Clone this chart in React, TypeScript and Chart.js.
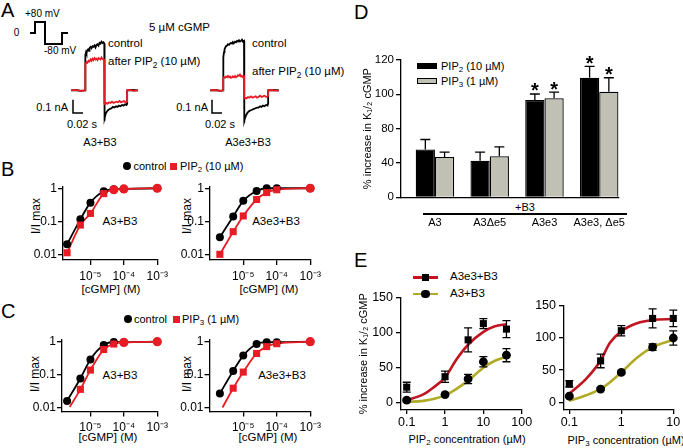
import React, { useEffect, useRef } from "react";
import { Chart, registerables } from "chart.js";

Chart.register(...registerables);

const FONT = "'Liberation Sans', Arial, Helvetica, sans-serif";
Chart.defaults.font.family = FONT;
Chart.defaults.color = "#000";

const RED = "rgb(232, 28, 36)";
const DARK_RED = "rgb(192, 22, 34)";
const OLIVE = "rgb(176, 170, 38)";
const GRAY = "rgb(192, 192, 180)";

// ================= Panel A data =================
const protocolTimeMs = [0, 10, 10, 30, 30, 64, 64, 76];
const protocolMv = [0, 0, 80, 80, -80, -80, 0, 0];

const a3CtrlT = [82, 92, 102, 110, 110.4, 111, 112, 113, 114, 116, 118, 119, 121, 123, 125, 127, 129, 131, 133, 135, 137, 139, 141, 143, 145, 147, 148.6, 148.8, 149.5, 150.5, 152, 154, 156, 158, 160, 163, 166, 169, 172, 175, 178, 181, 184, 187, 190, 193, 194, 194.3, 205, 216];
const a3CtrlI = [0, 0.003, -0.003, 0, 0.22, 0.27, 0.29, 0.28, 0.3, 0.31, 0.3, 0.32, 0.33, 0.32, 0.335, 0.33, 0.34, 0.325, 0.345, 0.35, 0.34, 0.36, 0.355, 0.37, 0.36, 0.365, 0.355, -0.23, -0.21, -0.19, -0.17, -0.16, -0.15, -0.145, -0.14, -0.135, -0.125, -0.13, -0.12, -0.125, -0.115, -0.12, -0.11, -0.115, -0.105, -0.11, -0.1, 0, 0.003, 0];
const a3Pip2T = [82, 90, 100, 110, 110.4, 111, 113, 115, 117, 119, 121, 123, 125, 127, 129, 131, 133, 135, 137, 139, 141, 143, 145, 147, 148.6, 148.8, 150, 152, 155, 158, 161, 164, 167, 170, 173, 176, 179, 182, 185, 188, 191, 194, 194.3, 200, 208, 216];
const a3Pip2I = [0, 0.004, -0.003, 0, 0.19, 0.2, 0.215, 0.21, 0.225, 0.22, 0.235, 0.225, 0.24, 0.23, 0.245, 0.235, 0.24, 0.23, 0.245, 0.24, 0.235, 0.25, 0.24, 0.235, 0.23, -0.1, -0.105, -0.095, -0.1, -0.09, -0.095, -0.085, -0.095, -0.09, -0.085, -0.09, -0.08, -0.09, -0.085, -0.08, -0.09, -0.085, 0, 0.004, -0.003, 0];

const a3e3CtrlT = [80, 92, 100, 106, 106.3, 107, 108, 109, 110, 112, 114, 116, 118, 120, 122, 124, 126, 128, 130, 132, 134, 136, 138, 140, 142, 144, 146, 148, 148.2, 149, 150, 152, 154, 156, 159, 162, 165, 168, 171, 174, 177, 180, 183, 186, 189, 192, 195, 196, 196.3, 207, 218];
const a3e3CtrlI = [0, 0.003, -0.003, 0, 0.15, 0.25, 0.29, 0.31, 0.32, 0.335, 0.34, 0.35, 0.345, 0.355, 0.36, 0.355, 0.365, 0.36, 0.37, 0.365, 0.375, 0.37, 0.38, 0.37, 0.375, 0.385, 0.37, 0.375, -0.245, -0.23, -0.21, -0.19, -0.175, -0.165, -0.155, -0.15, -0.145, -0.14, -0.135, -0.13, -0.13, -0.12, -0.125, -0.115, -0.12, -0.11, -0.115, -0.1, 0, 0.003, 0];
const a3e3Pip2T = [80, 90, 100, 106, 106.3, 108, 110, 112, 114, 116, 118, 120, 122, 124, 126, 128, 130, 132, 134, 136, 138, 140, 142, 144, 146, 148, 148.2, 150, 153, 156, 159, 162, 165, 168, 171, 174, 177, 180, 183, 186, 189, 192, 195, 196, 196.3, 204, 212, 218];
const a3e3Pip2I = [0, 0.003, -0.003, 0, 0.09, 0.1, 0.095, 0.105, 0.1, 0.11, 0.1, 0.105, 0.095, 0.1, 0.105, 0.1, 0.11, 0.1, 0.105, 0.115, 0.11, 0.12, 0.105, 0.11, 0.1, 0.105, -0.06, -0.055, -0.06, -0.05, -0.055, -0.045, -0.055, -0.05, -0.045, -0.055, -0.05, -0.04, -0.05, -0.045, -0.04, -0.05, -0.045, -0.04, 0, 0.003, -0.002, 0];

const scaleBarNa = 0.1;
const scaleBarMs = 20;
const a3ScaleBarCorner = [86, -0.171];
const a3e3ScaleBarCorner = [84, -0.171];

// ================= Panels B / C data =================
const cgmpM = [2e-6, 5e-6, 1e-5, 2.5e-5, 5e-5, 1e-4, 1e-3];
const bA3Ctrl = [0.021, 0.117, 0.37, 0.81, 0.93, 0.95, 1.0];
const bA3Pip2 = [0.0117, 0.079, 0.176, 0.69, 0.9, 0.95, 1.0];
const bA3e3Ctrl = [0.034, 0.143, 0.42, 0.83, 1.0, 1.0, 1.0];
const bA3e3Pip2 = [0.0105, 0.05, 0.148, 0.46, 0.74, 0.9, 1.0];
const cA3Ctrl = [0.016, 0.077, 0.29, 0.79, 0.98, 0.97, 1.0];
const cA3Pip3 = [null, 0.036, 0.138, 0.58, 0.85, 0.95, 1.0];
const cA3e3Ctrl = [0.027, 0.13, 0.38, 0.85, 0.97, 0.97, 1.0];
const cA3e3Pip3 = [null, 0.039, 0.12, 0.44, 0.71, 0.87, 1.0];
const cPip3CurveStartM = 2.4e-6;
const cA3Pip3CurveStart = 0.0105;
const cA3e3Pip3CurveStart = 0.0101;

const bA3DrugShapes = ["rect", "rect", "rect", "rect", "circle", "circle", "circle"];
const bA3e3DrugShapes = ["rect", "rect", "rect", "rect", "rect", "rect", "circle"];
const cA3DrugShapes = ["rect", "rect", "rect", "rect", "rect", "circle", "circle"];
const cA3e3DrugShapes = ["rect", "rect", "rect", "rect", "rect", "rect", "circle"];

const cgmpTicks = [1e-5, 1e-4, 1e-3];
const cgmpTickLabels = ["10\u207B\u2075", "10\u207B\u2074", "10\u207B\u00B3"];
const ratioTicks = [0.01, 0.1, 1];
const ratioTickLabels = ["0.01", "0.1", "1"];

// ================= Panel D data =================
const dCategories = ["A3", "A3\u0394e5", "A3e3", "A3e3, \u0394e5"];
const dPip2 = [55.6, 42.7, 113.3, 139.2];
const dPip2Err = [11.7, 9.8, 7.0, 13.3];
const dPip3 = [47.0, 47.8, 115.3, 123.0];
const dPip3Err = [5.5, 11.0, 7.1, 16.2];
const dPip2Star = [false, false, true, true];
const dPip3Star = [false, false, true, true];
const dTickValues = [0, 40, 80, 120, 160];
const dTickLabels = ["0", "40", "80", "100", "120"];

// ================= Panel E data =================
const ePip2Conc = [0.1, 1, 4, 10, 40];
const eA3e3Pip2 = [22.3, 37.2, 89.7, 112.8, 105];
const eA3e3Pip2Err = [7, 8, 17, 7, 12];
const eA3Pip2 = [3.8, 11.7, 34, 58.5, 67.8];
const eA3Pip2Err = [2, 2, 6.5, 7.4, 9.3];
const ePip2CurveX = [0.1, 0.27, 0.5, 1, 2, 4, 10, 20, 40];
const eA3e3Pip2Curve = [3.8, 12, 22, 36, 62, 82.7, 101, 109, 112];
const eA3Pip2Curve = [1.4, 2.8, 5.5, 10.7, 20, 31.6, 50, 60, 65.5];

const ePip3Conc = [0.1, 0.4, 1, 4, 10];
const eA3e3Pip3 = [28.9, 64.3, 111, 130, 130];
const eA3e3Pip3Err = [5, 10.6, 8, 14.7, 12.7];
const eA3Pip3 = [9.6, 20.7, 46.5, 85.6, 99.7];
const eA3Pip3Err = [2, 2, 2, 5, 11];
const ePip3CurveX = [0.1, 0.21, 0.4, 0.6, 1, 2, 4, 10];
const eA3e3Pip3Curve = [13.7, 36.5, 65, 92, 110, 122.5, 127.6, 129];
const eA3Pip3Curve = [2.4, 11, 21, 31, 46.5, 69, 85.6, 97];

const pip2Ticks = [0.1, 1, 10, 100];
const pip2TickLabels = ["0.1", "1", "10", "100"];
const pip3Ticks = [0.1, 1, 10];
const pip3TickLabels = ["0.1", "1", "10"];
const pctTicks = [0, 50, 100, 150];
const pctTickLabels = ["0", "50", "100", "150"];

const K_TITLE = "% increase in K\u2081/\u2082 cGMP";

// ================= helpers =================
const pts = (xs: number[], ys: any[]) =>
  xs.map((x, i) => ({ x, y: ys[i] })).filter((p) => p.y !== null && p.y !== undefined);

function layoutOf(f: any) {
  const cl = Math.floor(f.area.l - f.yw - f.pad.l);
  const ct = Math.floor(f.area.t - f.pad.t);
  const cr = Math.ceil(f.area.r + f.pad.r);
  const cb = Math.ceil(f.area.b + f.xh + f.pad.b);
  return {
    left: cl,
    top: ct,
    width: cr - cl,
    height: cb - ct,
    padding: { left: f.pad.l, top: f.area.t - ct, right: cr - f.area.r, bottom: f.pad.b },
    yw: f.area.l - cl - f.pad.l,
    xh: cb - f.pad.b - f.area.b,
  };
}

const baseOptions = (L: any) => ({
  responsive: false,
  animation: false,
  events: [],
  layout: { padding: L.padding },
  plugins: { legend: { display: false }, tooltip: { enabled: false } },
});

function axis(type: string, min: number, max: number, vals: number[], labels: string[], side: string, L: any, o: any = {}) {
  const tl = o.tickLen === undefined ? 5 : o.tickLen;
  return {
    type,
    min,
    max,
    bounds: "data",
    position: side === "x" ? "bottom" : "left",
    afterBuildTicks: (s: any) => {
      s.ticks = vals.map((v) => ({ value: v }));
    },
    afterFit: (s: any) => {
      if (side === "x") s.height = L.xh;
      else s.width = L.yw;
    },
    title: o.title
      ? { display: true, text: o.title, color: "#000", font: { family: FONT, size: 11 }, padding: { top: 0, bottom: 0 } }
      : { display: false },
    grid: { display: tl > 0, drawOnChartArea: false, drawTicks: true, tickLength: tl, color: "#000", lineWidth: 1.3 },
    border: { display: true, color: "#000", width: 1.3 },
    ticks: {
      callback: (_v: any, i: number) => labels[i],
      color: "#000",
      font: { family: FONT, size: o.fontSize || 12 },
      padding: o.pad === undefined ? 2 : o.pad,
      autoSkip: false,
      maxRotation: 0,
      minRotation: 0,
    },
  };
}

const hiddenAxis = (min: number, max: number) => ({ type: "linear", display: false, min, max });

const errorBarsPlugin = {
  id: "errorBars",
  afterDatasetsDraw(chart: any) {
    const ctx = chart.ctx;
    chart.data.datasets.forEach((ds: any, i: number) => {
      if (!ds.errors) return;
      const meta = chart.getDatasetMeta(i);
      const ys = chart.scales[meta.yAxisID];
      ctx.save();
      ctx.strokeStyle = "#000";
      ctx.lineWidth = 1.3;
      meta.data.forEach((el: any, j: number) => {
        const e = ds.errors[j];
        const p = ds.data[j];
        if (e == null || p == null) return;
        const v = p.y;
        const x = el.x;
        const yTop = ys.getPixelForValue(v + e);
        const yBot = ys.getPixelForValue(ds.errorUpOnly ? v : v - e);
        const c = ds.errorCap || 4;
        ctx.beginPath();
        ctx.moveTo(x, yTop);
        ctx.lineTo(x, yBot);
        ctx.moveTo(x - c, yTop);
        ctx.lineTo(x + c, yTop);
        if (!ds.errorUpOnly) {
          ctx.moveTo(x - c, yBot);
          ctx.lineTo(x + c, yBot);
        }
        ctx.stroke();
      });
      ctx.restore();
    });
  },
};

const starsPlugin = {
  id: "stars",
  afterDatasetsDraw(chart: any) {
    const ctx = chart.ctx;
    chart.data.datasets.forEach((ds: any, i: number) => {
      if (!ds.stars) return;
      const meta = chart.getDatasetMeta(i);
      const ys = chart.scales[meta.yAxisID];
      ctx.save();
      ctx.fillStyle = "#000";
      ctx.font = `bold 20px ${FONT}`;
      ctx.textAlign = "center";
      ctx.textBaseline = "alphabetic";
      meta.data.forEach((el: any, j: number) => {
        if (!ds.stars[j]) return;
        const v = ds.data[j].y + (ds.errors ? ds.errors[j] : 0);
        ctx.fillText("*", el.x, ys.getPixelForValue(v) + 3.5);
      });
      ctx.restore();
    });
  },
};

function PlotCanvas({ frame, make }: any) {
  const ref = useRef<HTMLCanvasElement>(null);
  const L = layoutOf(frame);
  useEffect(() => {
    const chart = new Chart(ref.current as HTMLCanvasElement, make(L));
    return () => chart.destroy();
  }, []);
  return (
    <canvas
      ref={ref}
      width={L.width}
      height={L.height}
      style={{ position: "absolute", left: L.left, top: L.top, width: L.width, height: L.height, zIndex: 3 }}
    />
  );
}

// ================= chart configs =================
const traceFrameA3 = { area: { l: 30, t: 35, r: 145, b: 130 }, yw: 0, xh: 0, pad: { t: 0, r: 0, b: 0, l: 0 } };
const traceFrameA3e3 = { area: { l: 170, t: 35, r: 285, b: 130 }, yw: 0, xh: 0, pad: { t: 0, r: 0, b: 0, l: 0 } };
const protocolFrame = { area: { l: 26, t: 18, r: 72, b: 48 }, yw: 0, xh: 0, pad: { t: 0, r: 0, b: 0, l: 0 } };

const lineDs = (data: any[], color: string, width: number, extra: any = {}) => ({
  data,
  showLine: true,
  pointRadius: 0,
  borderColor: color,
  borderWidth: width,
  backgroundColor: color,
  tension: 0,
  clip: false,
  ...extra,
});

function traceConfig(ctrlT: number[], ctrlI: number[], drugT: number[], drugI: number[], corner: number[]) {
  return (L: any) => ({
    type: "scatter",
    data: {
      datasets: [
        lineDs(pts(drugT, drugI), RED, 1.8),
        lineDs(pts(ctrlT, ctrlI), "#000", 1.8),
        lineDs(
          [
            { x: corner[0], y: corner[1] + scaleBarNa },
            { x: corner[0], y: corner[1] },
            { x: corner[0] + scaleBarMs, y: corner[1] },
          ],
          "#000",
          1.5
        ),
      ],
    },
    options: { ...baseOptions(L), scales: { x: hiddenAxis(0, 230), y: hiddenAxis(-0.3, 0.42) } },
  });
}

const protocolConfig = (L: any) => ({
  type: "scatter",
  data: { datasets: [lineDs(pts(protocolTimeMs, protocolMv), "#000", 2)] },
  options: { ...baseOptions(L), scales: { x: hiddenAxis(-8, 84), y: hiddenAxis(-109, 109) } },
});

function doseConfig(xr: number[], yr: number[], ctrl: any[], drug: any[], shapes: string[], drugCurve: any[] | null) {
  return (L: any) => {
    const drugPts = pts(cgmpM, drug);
    const drugShapes = cgmpM.map((_, i) => shapes[i]).filter((_, i) => drug[i] !== null);
    return {
      type: "scatter",
      data: {
        datasets: [
          {
            data: drugPts,
            pointStyle: drugShapes,
            pointRadius: drugShapes.map((s) => (s === "rect" ? 5 : 4.6)),
            backgroundColor: RED,
            borderWidth: 0,
            clip: false,
          },
          { data: pts(cgmpM, ctrl), pointStyle: "circle", pointRadius: 4, backgroundColor: "#000", borderWidth: 0, clip: false },
          lineDs(drugCurve || drugPts, RED, 1.8, { cubicInterpolationMode: "monotone" }),
          lineDs(pts(cgmpM, ctrl), "#000", 1.8, { cubicInterpolationMode: "monotone" }),
        ],
      },
      options: {
        ...baseOptions(L),
        scales: {
          x: axis("logarithmic", xr[0], xr[1], cgmpTicks, cgmpTickLabels, "x", L, { pad: 4 }),
          y: axis("logarithmic", yr[0], yr[1], ratioTicks, ratioTickLabels, "y", L, { pad: 1 }),
        },
      },
    };
  };
}

const dFrame = { area: { l: 401, t: 59.3, r: 633, b: 197.3 }, yw: 40, xh: 40, pad: { t: 8, r: 12, b: 0, l: 0 } };
const dConfig = (L: any) => ({
  type: "bar",
  data: {
    datasets: [
      {
        data: dPip2.map((v, i) => ({ x: i, y: v })),
        backgroundColor: "#000",
        borderColor: "#000",
        borderWidth: 1.3,
        errors: dPip2Err,
        errorUpOnly: true,
        errorCap: 5,
        stars: dPip2Star,
      },
      {
        data: dPip3.map((v, i) => ({ x: i, y: v })),
        backgroundColor: GRAY,
        borderColor: "#000",
        borderWidth: 1.3,
        errors: dPip3Err,
        errorUpOnly: true,
        errorCap: 5,
        stars: dPip3Star,
      },
    ],
  },
  options: {
    ...baseOptions(L),
    datasets: { bar: { barPercentage: 1, categoryPercentage: 0.703, borderSkipped: "start" } },
    scales: {
      x: { ...axis("linear", -0.62, 3.357, [0, 1, 2, 3], dCategories, "x", L, { tickLen: 0, pad: 19, fontSize: 11 }), offset: false },
      y: axis("linear", 0, 160, dTickValues, dTickLabels, "y", L, { fontSize: 11.5, pad: 2, title: K_TITLE }),
    },
  },
  plugins: [errorBarsPlugin, starsPlugin],
});

function eConfig(xr: number[], yr: number[], ticks: number[], tickLabels: string[], conc: number[], sq: number[], sqErr: number[], ci: number[], ciErr: number[], cx: number[], sqCurve: number[], ciCurve: number[], yTitle: string | null) {
  return (L: any) => ({
    type: "scatter",
    data: {
      datasets: [
        { data: pts(conc, sq), pointStyle: "rect", pointRadius: 5, backgroundColor: "#000", borderWidth: 0, clip: false, errors: sqErr, errorCap: 4 },
        { data: pts(conc, ci), pointStyle: "circle", pointRadius: 4.4, backgroundColor: "#000", borderWidth: 0, clip: false, errors: ciErr, errorCap: 4 },
        lineDs(pts(cx, sqCurve), DARK_RED, 2.6, { cubicInterpolationMode: "monotone" }),
        lineDs(pts(cx, ciCurve), OLIVE, 2.6, { cubicInterpolationMode: "monotone" }),
      ],
    },
    options: {
      ...baseOptions(L),
      scales: {
        x: axis("logarithmic", xr[0], xr[1], ticks, tickLabels, "x", L, { tickLen: 4, pad: 1, fontSize: 12.5 }),
        y: axis("linear", yr[0], yr[1], pctTicks, pctTickLabels, "y", L, { pad: 3, fontSize: 12.5, title: yTitle }),
      },
    },
    plugins: [errorBarsPlugin],
  });
}

const bcPad = { t: 8, r: 14, b: 0, l: 0 };
const bLeftFrame = { area: { l: 63, t: 186, r: 158, b: 260 }, yw: 30, xh: 26, pad: bcPad };
const bRightFrame = { area: { l: 210, t: 186, r: 311, b: 260 }, yw: 30, xh: 26, pad: bcPad };
const cLeftFrame = { area: { l: 62, t: 339.5, r: 158, b: 411.5 }, yw: 30, xh: 26, pad: bcPad };
const cRightFrame = { area: { l: 209.5, t: 339.5, r: 311, b: 411.5 }, yw: 30, xh: 26, pad: bcPad };
const eLeftFrame = { area: { l: 401, t: 295, r: 521.7, b: 410 }, yw: 44, xh: 22, pad: { t: 8, r: 14, b: 0, l: 0 } };
const eRightFrame = { area: { l: 564, t: 303.3, r: 673.3, b: 410 }, yw: 30, xh: 22, pad: { t: 8, r: 9, b: 0, l: 0 } };

// ================= HTML text =================
function Txt({ x, y, s = 12, a = "l", rot = false, children }: any) {
  const tx = a === "l" ? "0%" : a === "c" ? "-50%" : "-100%";
  return (
    <div
      style={{
        position: "absolute",
        left: x,
        top: y,
        transform: rot ? "translate(-50%,-50%) rotate(-90deg)" : `translate(${tx},-50%)`,
        fontSize: s,
        lineHeight: 1,
        whiteSpace: "nowrap",
        fontFamily: FONT,
        color: "#000",
      }}
    >
      {children}
    </div>
  );
}
const Sub = ({ children }: any) => (
  <sub style={{ fontSize: "0.72em", verticalAlign: "-0.3em", lineHeight: 0 }}>{children}</sub>
);
function Dot({ x, y, r, color, square = false }: any) {
  return (
    <div
      style={{
        position: "absolute",
        left: x - r,
        top: y - r,
        width: 2 * r,
        height: 2 * r,
        background: color,
        borderRadius: square ? 0 : "50%",
      }}
    />
  );
}
function Rect({ x, y, w, h, color, border }: any) {
  return (
    <div
      style={{
        position: "absolute",
        left: x,
        top: y,
        width: w,
        height: h,
        background: color,
        border: border || "none",
        boxSizing: "border-box",
      }}
    />
  );
}

export default function App() {
  return (
    <div style={{ position: "absolute", left: 0, top: 0, width: 683, height: 448, background: "#fff", overflow: "hidden" }}>
      <Txt x={35.5} y={216} s={12} rot>I/I max</Txt>
      <Txt x={187} y={216} s={12} rot>I/I max</Txt>
      <Txt x={35} y={374} s={12} rot>I/I max</Txt>
      <Txt x={186.5} y={374} s={12} rot>I/I max</Txt>

      {/* ---------- Panel A ---------- */}
      <Txt x={1} y={10} s={20}>A</Txt>
      <PlotCanvas frame={protocolFrame} make={protocolConfig} />
      <Txt x={25} y={14} s={10}>+80 mV</Txt>
      <Txt x={16.5} y={33} s={10} a="c">0</Txt>
      <Txt x={44} y={51} s={10}>-80 mV</Txt>
      <Txt x={149} y={28} s={11.5}>5 µM cGMP</Txt>
      <PlotCanvas frame={traceFrameA3} make={traceConfig(a3CtrlT, a3CtrlI, a3Pip2T, a3Pip2I, a3ScaleBarCorner)} />
      <PlotCanvas frame={traceFrameA3e3} make={traceConfig(a3e3CtrlT, a3e3CtrlI, a3e3Pip2T, a3e3Pip2I, a3e3ScaleBarCorner)} />
      <Txt x={108} y={44} s={11.5}>control</Txt>
      <Txt x={108} y={62} s={11.5}>after PIP<Sub>2</Sub> (10 µM)</Txt>
      <Txt x={252} y={44} s={11.5}>control</Txt>
      <Txt x={252} y={72} s={11.5}>after PIP<Sub>2</Sub> (10 µM)</Txt>
      <Txt x={68} y={107} s={11} a="r">0.1 nA</Txt>
      <Txt x={67} y={124} s={11}>0.02 s</Txt>
      <Txt x={208} y={107} s={11} a="r">0.1 nA</Txt>
      <Txt x={205} y={124} s={11}>0.02 s</Txt>
      <Txt x={100} y={142} s={11} a="c">A3+B3</Txt>
      <Txt x={248} y={142} s={11} a="c">A3e3+B3</Txt>

      {/* ---------- Panel B ---------- */}
      <Txt x={1} y={169} s={20}>B</Txt>
      <Dot x={127} y={166} r={4} color="#000" />
      <Txt x={133.5} y={166} s={11}>control</Txt>
      <Dot x={173.5} y={166} r={3.5} color={RED} square />
      <Txt x={180} y={166} s={11}>PIP<Sub>2</Sub> (10 µM)</Txt>
      <PlotCanvas frame={bLeftFrame} make={doseConfig([1.51e-6, 1.035e-3], [0.0071, 1.15], bA3Ctrl, bA3Pip2, bA3DrugShapes, null)} />
      <PlotCanvas frame={bRightFrame} make={doseConfig([1.014e-6, 1.05e-3], [0.0071, 1.15], bA3e3Ctrl, bA3e3Pip2, bA3e3DrugShapes, null)} />
      <Txt x={120} y={222} s={11.5} a="c">A3+B3</Txt>
      <Txt x={276} y={222} s={11.5} a="c">A3e3+B3</Txt>
      <Txt x={111} y={290} s={11.5} a="c">[cGMP] (M)</Txt>
      <Txt x={269} y={290} s={11.5} a="c">[cGMP] (M)</Txt>

      {/* ---------- Panel C ---------- */}
      <Txt x={1} y={311} s={20}>C</Txt>
      <Dot x={128} y={319} r={4} color="#000" />
      <Txt x={134} y={319} s={11}>control</Txt>
      <Dot x={176} y={319} r={3.5} color={RED} square />
      <Txt x={182} y={319} s={11}>PIP<Sub>3</Sub> (1 µM)</Txt>
      <PlotCanvas
        frame={cLeftFrame}
        make={doseConfig([1.41e-6, 1.035e-3], [0.00767, 1.166], cA3Ctrl, cA3Pip3, cA3DrugShapes, [{ x: cPip3CurveStartM, y: cA3Pip3CurveStart }, ...pts(cgmpM, cA3Pip3)])}
      />
      <PlotCanvas
        frame={cRightFrame}
        make={doseConfig([0.98e-6, 1.05e-3], [0.00767, 1.166], cA3e3Ctrl, cA3e3Pip3, cA3e3DrugShapes, [{ x: cPip3CurveStartM, y: cA3e3Pip3CurveStart }, ...pts(cgmpM, cA3e3Pip3)])}
      />
      <Txt x={120} y={376} s={11.5} a="c">A3+B3</Txt>
      <Txt x={282} y={376} s={11.5} a="c">A3e3+B3</Txt>
      <Txt x={108} y={438} s={11.5} a="c">[cGMP] (M)</Txt>
      <Txt x={268} y={438} s={11.5} a="c">[cGMP] (M)</Txt>

      {/* ---------- Panel D ---------- */}
      <Txt x={354} y={12} s={20}>D</Txt>
      <PlotCanvas frame={dFrame} make={dConfig} />
      <Rect x={417} y={63} w={20} h={6} color="#000" />
      <Txt x={441} y={66} s={11}>PIP<Sub>2</Sub> (10 µM)</Txt>
      <Rect x={417} y={78} w={20} h={6} color={GRAY} border="1.3px solid #000" />
      <Txt x={441} y={81} s={11}>PIP<Sub>3</Sub> (1 µM)</Txt>
      <Txt x={525} y={207} s={11} a="c">+B3</Txt>
      <Rect x={423} y={213.3} w={204} h={2} color="#000" />

      {/* ---------- Panel E ---------- */}
      <Txt x={354} y={260} s={20}>E</Txt>
      <Rect x={413} y={276.4} w={25} h={2.6} color={DARK_RED} />
      <Dot x={425.5} y={277.7} r={3.6} color="#000" square />
      <Txt x={450} y={277} s={11.5}>A3e3+B3</Txt>
      <Rect x={413} y={292.7} w={25} h={2.6} color={OLIVE} />
      <Dot x={425.5} y={294} r={4.3} color="#000" />
      <Txt x={450} y={294} s={11.5}>A3+B3</Txt>
      <PlotCanvas
        frame={eLeftFrame}
        make={eConfig([0.071, 100], [-10.2, 150], pip2Ticks, pip2TickLabels, ePip2Conc, eA3e3Pip2, eA3e3Pip2Err, eA3Pip2, eA3Pip2Err, ePip2CurveX, eA3e3Pip2Curve, eA3Pip2Curve, K_TITLE)}
      />
      <PlotCanvas
        frame={eRightFrame}
        make={eConfig([0.079, 10], [-11.7, 150], pip3Ticks, pip3TickLabels, ePip3Conc, eA3e3Pip3, eA3e3Pip3Err, eA3Pip3, eA3Pip3Err, ePip3CurveX, eA3e3Pip3Curve, eA3Pip3Curve, null)}
      />
      <Txt x={467} y={439} s={11} a="c">PIP<Sub>2</Sub> concentration (µM)</Txt>
      <Txt x={626} y={440} s={11} a="c">PIP<Sub>3</Sub> concentration (µM)</Txt>
    </div>
  );
}
